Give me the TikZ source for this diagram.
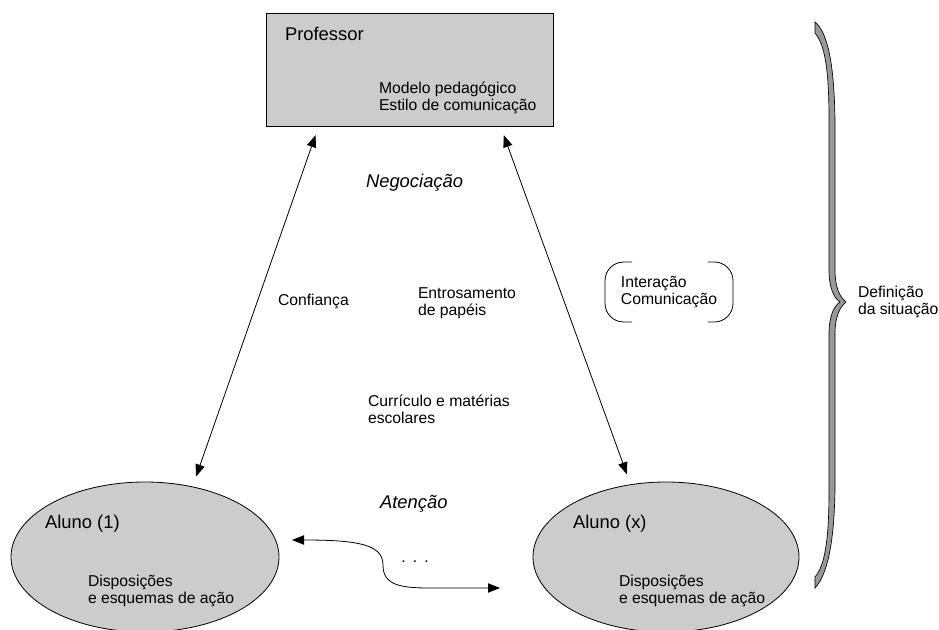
\documentclass[tikz,border=0pt]{standalone}
\usepackage{fontspec}
\setmainfont{Liberation Sans}
\usetikzlibrary{arrows.meta,calc,shapes.geometric}

\definecolor{lightGray}{rgb}{0.8,0.8,0.8}
\definecolor{braceGray}{rgb}{0.6,0.6,0.6}
\definecolor{strokecol}{rgb}{0,0,0}

\tikzset{
  txt/.style={inner sep=0, outer sep=0, align=left, font=\fontsize{11.8}{12.6}\selectfont},
  bigtxt/.style={inner sep=0, outer sep=0, font=\fontsize{13.8}{15}\selectfont},
  actor/.style={draw=strokecol, fill=lightGray, line width=0.6pt, inner sep=0},
  dblarrow/.style={{Triangle[length=9pt,width=7pt]}-{Triangle[length=9pt,width=7pt]}, draw=strokecol, line width=0.6pt},
  bracket/.style={draw=strokecol, line width=0.6pt, rounded corners=14pt}
}

\begin{document}
\begin{tikzpicture}[x=0.75pt, y=-0.75pt]

    \useasboundingbox (0,0) rectangle (939,629);

    % professor
    \node[actor, rectangle, minimum width=287*0.75pt, minimum height=113*0.75pt] (prof) at (409.5,69.5) {};
    \node[bigtxt, anchor=base west] (profName) at (285,40) {Professor};
    \node[txt, anchor=north west] (profText) at (379,82) {Modelo pedagógico\\Estilo de comunicação};

    % alunos
    \node[actor, ellipse, minimum width=268*0.75pt, minimum height=150*0.75pt] (aluno1) at (145,557) {};
    \node[bigtxt, anchor=base west] (aluno1Name) at (45,528) {Aluno (1)};
    \node[txt, anchor=north west] (aluno1Text) at (88,575) {Disposições\\e esquemas de ação};

    \node[actor, ellipse, minimum width=266*0.75pt, minimum height=150*0.75pt] (alunoX) at (666,557) {};
    \node[bigtxt, anchor=base west] (alunoXName) at (573,528) {Aluno (x)};
    \node[txt, anchor=north west] (alunoXText) at (619,575) {Disposições\\e esquemas de ação};

    % arrows professor - alunos
    \draw[dblarrow, shorten <=7pt, shorten >=8pt] ($(prof.south west)+(53,0)$) -- (aluno1.56);
    \draw[dblarrow, shorten <=7pt, shorten >=8pt] ($(prof.south west)+(235,0)$) -- (alunoX.116);

    % arrow between alunos
    \coordinate (waveL) at (292,540);
    \coordinate (waveR) at (500,588);
    \draw[dblarrow] (waveL) .. controls (360,540) and (383,545) .. (383,565) .. controls (383,585) and (400,588) .. (430,588) -- (waveR);
    \node[txt, anchor=base] (dots) at (415,562) {.\hspace{0.45em}.\hspace{0.45em}.};

    % labels
    \node[bigtxt, anchor=base west] (nego) at (366,187) {\itshape Negociação};
    \node[txt, anchor=base west] (conf) at (278,305) {Confiança};
    \node[txt, anchor=north west] (entro) at (418,288) {Entrosamento\\de papéis};
    \node[txt, anchor=north west] (curr) at (368,395) {Currículo e matérias\\escolares};
    \node[bigtxt, anchor=base west] (atenc) at (380,508) {\itshape Atenção};

    % interacao
    \node[txt, minimum width=128*0.75pt, minimum height=60*0.75pt] (inter) at (669,292) {Interação\\Comunicação};
    \draw[bracket] ($(inter.north west)+(27,0)$) -- (inter.north west) -- (inter.south west) -- ($(inter.south west)+(27,0)$);
    \draw[bracket] ($(inter.north east)+(-25,0)$) -- (inter.north east) -- (inter.south east) -- ($(inter.south east)+(-25,0)$);

    % brace
    \draw[fill=braceGray, draw=strokecol, line width=0.5pt]
      (815,22) .. controls (827,32) and (834,60) .. (835,120) -- (835,270)
      .. controls (835,288) and (840,297) .. (846,302)
      .. controls (840,307) and (835,316) .. (835,334) -- (835,490)
      .. controls (834,545) and (827,575) .. (815,588) -- (815,577)
      .. controls (825,565) and (829,540) .. (829,490) -- (829,334)
      .. controls (829,316) and (834,306) .. (840,302)
      .. controls (834,298) and (829,288) .. (829,270) -- (829,120)
      .. controls (829,70) and (825,45) .. (815,33) -- cycle;
    \node[txt, anchor=north west] (defi) at (858,286) {Definição\\da situação};

\end{tikzpicture}
\end{document}
